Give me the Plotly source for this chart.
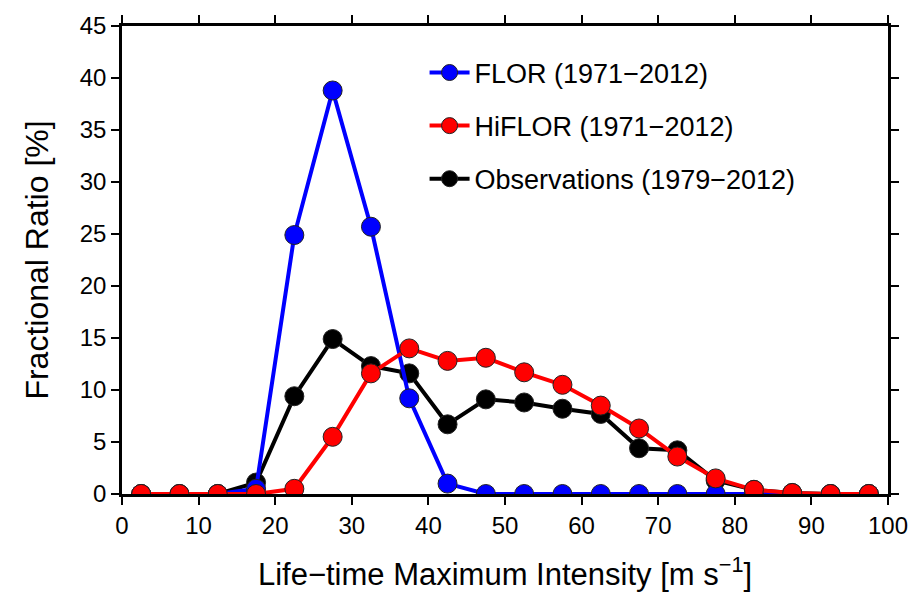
import plotly.graph_objects as go

x_vals = [2.5, 7.5, 12.5, 17.5, 22.5, 27.5, 32.5, 37.5, 42.5, 47.5,
          52.5, 57.5, 62.5, 67.5, 72.5, 77.5, 82.5, 87.5, 92.5, 97.5]
flor = [0, 0, 0, 0.5, 24.9, 38.8, 25.7, 9.2, 1.0, 0,
        0, 0, 0, 0, 0, 0, 0, 0, 0, 0]
hiflor = [0, 0, 0, 0, 0.5, 5.5, 11.6, 14.0, 12.8, 13.1,
          11.7, 10.5, 8.5, 6.3, 3.6, 1.5, 0.4, 0.1, 0, 0]
obs = [0, 0, 0, 1.1, 9.4, 14.9, 12.3, 11.6, 6.7, 9.1,
       8.8, 8.2, 7.7, 4.4, 4.2, 1.3, 0.4, 0.1, 0, 0]

names = ["FLOR (1971−2012)", "HiFLOR (1971−2012)", "Observations (1979−2012)"]
colors = ["#0000ff", "#ff0000", "#000000"]
series = [flor, hiflor, obs]

fig = go.Figure()
# draw order: obs, flor, hiflor (red on top)
order = [2, 0, 1]
for i in order:
    fig.add_trace(go.Scatter(
        x=x_vals, y=series[i], name=names[i], mode="lines+markers",
        line=dict(color=colors[i], width=4),
        marker=dict(color=colors[i], size=19, line=dict(color="#222222", width=1)),
        legendgroup=str(i), legendrank=i + 1,
    ))

font = "Liberation Sans, Arial, Helvetica, sans-serif"
axis_common = dict(showline=True, linecolor="black", linewidth=2.5, mirror="ticks",
                   ticks="outside", ticklen=8, tickwidth=2, tickcolor="black",
                   showgrid=False, zeroline=False,
                   tickfont=dict(family=font, size=24, color="black"))
fig.update_layout(
    width=924, height=599,
    margin=dict(l=122, r=36, t=14, b=105),
    plot_bgcolor="white", paper_bgcolor="white",
    xaxis=dict(range=[0, 100], dtick=10, tick0=0,
               title=dict(text="Life−time Maximum Intensity [m s<sup>−1</sup>]",
                          font=dict(family=font, size=31, color="black"), standoff=26),
               **axis_common),
    yaxis=dict(range=[0, 45], dtick=5, tick0=0,
               title=dict(text="Fractional Ratio [%]",
                          font=dict(family=font, size=32, color="black"), standoff=22),
               **axis_common),
    legend=dict(x=0.395, y=0.952, xanchor="left", yanchor="top",
                font=dict(family=font, size=27, color="black"),
                bgcolor="rgba(0,0,0,0)", tracegroupgap=15, itemwidth=40),
    showlegend=True,
)
fig.write_html("out.html")
